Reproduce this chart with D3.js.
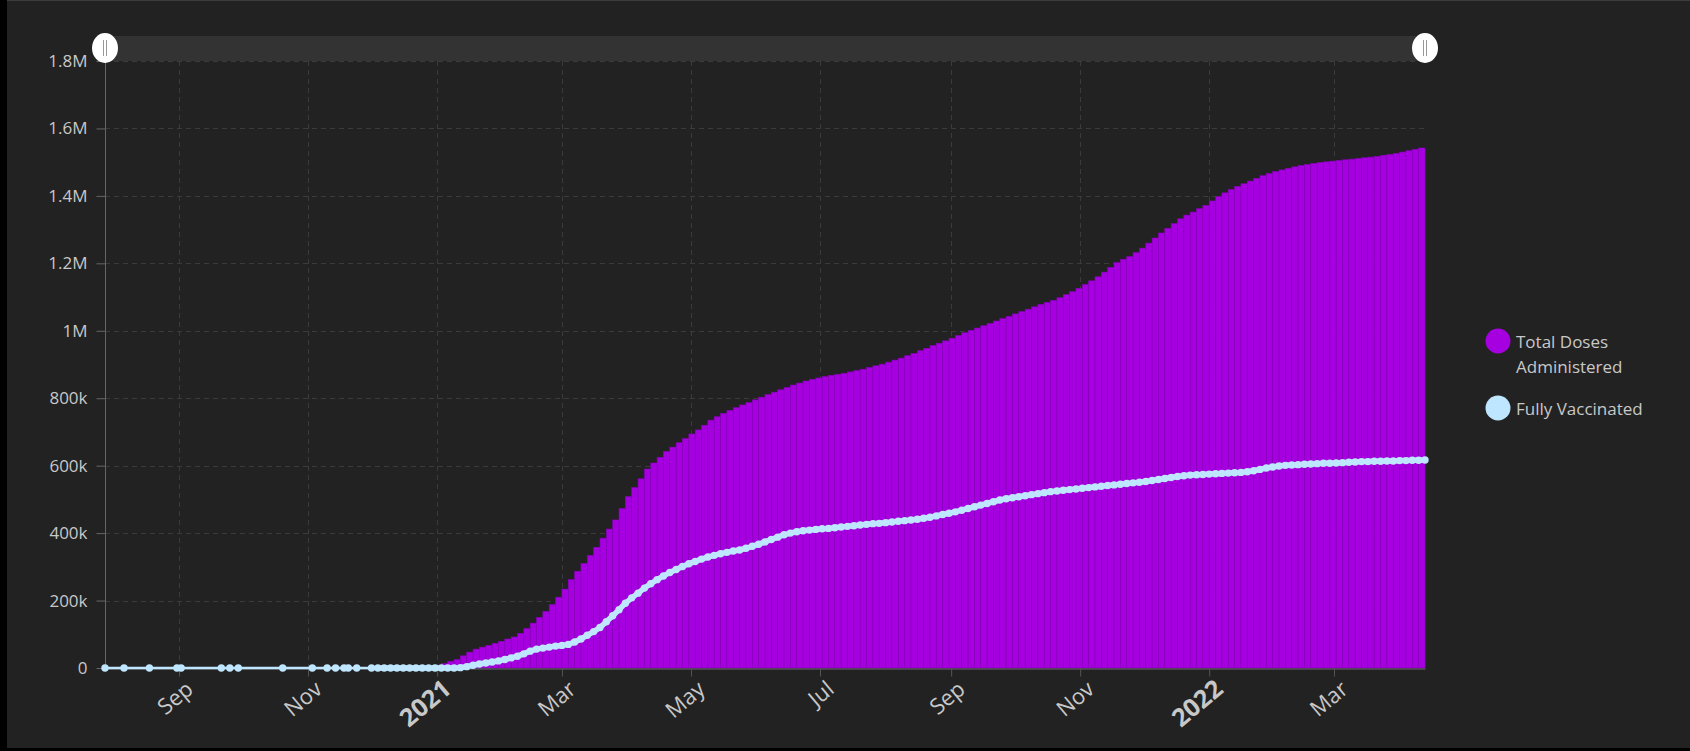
<!DOCTYPE html>
<html lang="en">
<head>
<meta charset="utf-8">
<title>Vaccinations</title>
<script src="https://cdn.jsdelivr.net/npm/d3@7"></script>
<style>
  body { margin: 0; background: #000; }
  svg { display: block; }
  text { font-family: "Open Sans", sans-serif; }
</style>
</head>
<body>
<div id="chart"></div>
<script>
// sparse 2020 reports, nothing administered yet
var earlyDates = ["2020-07-28", "2020-08-06", "2020-08-18", "2020-08-31", "2020-09-02",
	"2020-09-21", "2020-09-25", "2020-09-29", "2020-10-20", "2020-11-03", "2020-11-10",
	"2020-11-14", "2020-11-18", "2020-11-20", "2020-11-24", "2020-12-01"];
var earlyTotal = [0, 0, 0, 0, 0, 0, 0, 0, 0, 0, 0, 0, 0, 0, 0, 0];
var earlyFully = [0, 0, 0, 0, 0, 0, 0, 0, 0, 0, 0, 0, 0, 0, 0, 0];

// one report every 3 days, 2020-12-04 .. 2022-04-13, values in thousands
var firstDate = "2020-12-04";
var stepDays = 3;
var totalDoses = [
	0, 0, 0, 0, 0, 0, 1, 1, 2, 3,                                  // Dec 20
	6, 13, 20, 25, 36, 47, 56, 62, 67, 73,                         // Jan 21
	79, 86, 92, 103, 117, 133, 150, 168, 188,                      // Feb
	210, 234, 262, 287, 310, 334, 358, 385, 412, 439, 473,         // Mar
	508, 535, 561, 590, 608, 625, 642, 655, 668, 680,              // Apr
	694, 706, 720, 735, 745, 755, 764, 772, 780, 787,              // May
	795, 803, 811, 818, 825, 832, 839, 845, 851, 856,              // Jun
	860, 864, 868, 871, 874, 878, 882, 886, 891, 896,              // Jul
	901, 907, 913, 919, 926, 933, 941, 948, 956, 963, 970,         // Aug
	978, 986, 994, 1001, 1008, 1015, 1022, 1029, 1036, 1043,       // Sep
	1050, 1057, 1064, 1071, 1078, 1084, 1090, 1098, 1107, 1116,    // Oct
	1126, 1137, 1148, 1160, 1174, 1188, 1202, 1212, 1220, 1232,    // Nov
	1245, 1260, 1275, 1290, 1304, 1318, 1332, 1343, 1352, 1362,    // Dec
	1372, 1385, 1398, 1409, 1419, 1428, 1436, 1444, 1452, 1460, 1466, // Jan 22
	1472, 1477, 1482, 1486, 1490, 1493, 1496, 1499, 1501,          // Feb
	1503, 1505, 1507, 1509, 1511, 1513, 1515, 1517, 1520, 1523,    // Mar
	1526, 1530, 1534, 1538, 1542                                   // Apr
];
var fullyVaccinated = [
	0, 0, 0, 0, 0, 0, 0, 0, 0, 0,
	0, 0, 0, 1, 4, 8, 12, 15, 18, 21,
	25, 30, 35, 42, 50, 56, 59, 62, 65,
	67, 70, 77, 86, 97, 108, 120, 137, 155, 173, 192,
	208, 222, 237, 250, 262, 273, 283, 292, 301, 309,
	316, 323, 329, 334, 339, 343, 347, 350, 355, 361,
	367, 374, 381, 388, 395, 400, 404, 407, 409, 411,
	413, 414, 416, 418, 420, 422, 424, 426, 428, 429,
	431, 433, 435, 437, 439, 441, 444, 447, 451, 455, 459,
	463, 468, 473, 478, 483, 488, 493, 498, 502, 505,
	508, 511, 514, 517, 520, 523, 525, 527, 529, 531,
	533, 535, 537, 539, 541, 543, 545, 547, 549, 551,
	553, 556, 559, 562, 565, 568, 570, 572, 573, 574,
	575, 576, 577, 578, 579, 580, 582, 585, 589, 593, 596,
	599, 601, 602, 603, 604, 605, 606, 607, 607,
	608, 609, 610, 611, 612, 612, 613, 613, 614, 614,
	615, 615, 616, 616, 617
];

var yTicks = [0, 200, 400, 600, 800, 1000, 1200, 1400, 1600, 1800];
var yTickLabels = ["0", "200k", "400k", "600k", "800k", "1M", "1.2M", "1.4M", "1.6M", "1.8M"];
var xTickDates = ["2020-09-01", "2020-11-01", "2021-01-01", "2021-03-01", "2021-05-01",
	"2021-07-01", "2021-09-01", "2021-11-01", "2022-01-01", "2022-03-01"];
var xTickLabels = ["Sep", "Nov", "2021", "Mar", "May", "Jul", "Sep", "Nov", "2022", "Mar"];

var seriesNames = ["Total Doses|Administered", "Fully Vaccinated"];
var seriesColors = ["#a600e0", "#bfe6ff"];

var w = 1690;
var h = 751;
var plotLeft = 105, plotRight = 1425, plotTop = 61, plotBottom = 668;

var parse = d3.timeParse("%Y-%m-%d");
var start = parse(firstDate);

var rows = totalDoses.map(function(d, i) {
	return { date: d3.timeDay.offset(start, i * stepDays), total: d, fully: fullyVaccinated[i] };
});
var early = earlyDates.map(function(d, i) {
	return { date: parse(d), total: earlyTotal[i], fully: earlyFully[i] };
});
var allRows = early.concat(rows);

var x = d3.scaleTime()
	.domain([parse(earlyDates[0]), rows[rows.length - 1].date])
	.range([plotLeft, plotRight]);
var y = d3.scaleLinear()
	.domain([0, 1800])
	.range([plotBottom, plotTop]);

var svg = d3.select("#chart").append("svg").attr("width", w).attr("height", h);

// panel
svg.append("rect")
	.attr("x", 7).attr("y", 0)
	.attr("width", w - 7).attr("height", 748)
	.attr("fill", "#222222");
svg.append("line")
	.attr("x1", 7).attr("x2", w).attr("y1", 0.5).attr("y2", 0.5)
	.attr("stroke", "#3d3d3d");

// grid
svg.append("g").selectAll("line")
	.data(yTicks.slice(1))
	.enter().append("line")
	.attr("x1", plotLeft).attr("x2", plotRight)
	.attr("y1", function(d) { return Math.round(y(d)) + 0.5; })
	.attr("y2", function(d) { return Math.round(y(d)) + 0.5; })
	.attr("stroke", "#3b3b3b")
	.attr("stroke-dasharray", "5,4");

svg.append("g").selectAll("line")
	.data(xTickDates)
	.enter().append("line")
	.attr("x1", function(d) { return Math.round(x(parse(d))) + 0.5; })
	.attr("x2", function(d) { return Math.round(x(parse(d))) + 0.5; })
	.attr("y1", plotTop).attr("y2", plotBottom)
	.attr("stroke", "#3b3b3b")
	.attr("stroke-dasharray", "5,4");

// bars
svg.append("g").selectAll("rect")
	.data(rows.filter(function(d) { return d.total > 0; }))
	.enter().append("rect")
	.attr("x", function(d) { return x(d3.timeDay.offset(d.date, -stepDays)); })
	.attr("width", function(d) { return x(d.date) - x(d3.timeDay.offset(d.date, -stepDays)); })
	.attr("y", function(d) { return y(d.total); })
	.attr("height", function(d) { return y(0) - y(d.total); })
	.attr("fill", seriesColors[0])
	.attr("stroke", "#8a00bd")
	.attr("stroke-width", 0.6);

// axes
var yAxis = d3.axisLeft(y)
	.tickValues(yTicks)
	.tickFormat(function(d, i) { return yTickLabels[i]; })
	.tickSize(9)
	.tickPadding(9);
var gy = svg.append("g")
	.attr("transform", "translate(" + (plotLeft + 0.5) + ",0)")
	.call(yAxis);
gy.select(".domain").attr("stroke", "#666").attr("d", "M0," + plotTop + "V" + plotBottom);
gy.selectAll(".tick line").attr("stroke", "#666");
gy.selectAll(".tick text")
	.attr("fill", "#c8c8c8")
	.style("font-size", "17px");

var xAxis = d3.axisBottom(x)
	.tickValues(xTickDates.map(parse))
	.tickFormat(function(d, i) { return xTickLabels[i]; })
	.tickSize(8)
	.tickSizeOuter(0);
var gx = svg.append("g")
	.attr("transform", "translate(0," + (plotBottom + 0.5) + ")")
	.call(xAxis);
gx.select(".domain").attr("stroke", "#8a8a8a").attr("stroke-opacity", 0.7);
gx.selectAll(".tick line").attr("stroke", "#555");
gx.selectAll(".tick text")
	.attr("fill", "#c8c8c8")
	.style("font-size", function(d, i) { return /^\d/.test(xTickLabels[i]) ? "25px" : "22px"; })
	.style("font-weight", function(d, i) { return /^\d/.test(xTickLabels[i]) ? "bold" : "normal"; })
	.attr("text-anchor", "end")
	.attr("dy", null)
	.attr("y", null)
	.attr("transform", "translate(15,23) rotate(-40)");

// fully vaccinated line: thin through the sparse reports, thick where daily
var line = d3.line()
	.x(function(d) { return x(d.date); })
	.y(function(d) { return y(d.fully); });

svg.append("path")
	.datum(early.concat(rows.slice(0, 1)))
	.attr("d", line)
	.attr("fill", "none")
	.attr("stroke", seriesColors[1])
	.attr("stroke-width", 2.5);

svg.append("path")
	.datum(rows)
	.attr("d", line)
	.attr("fill", "none")
	.attr("stroke", seriesColors[1])
	.attr("stroke-width", 5.5)
	.attr("stroke-linejoin", "round");

svg.append("g").selectAll("circle")
	.data(allRows)
	.enter().append("circle")
	.attr("cx", function(d) { return x(d.date); })
	.attr("cy", function(d) { return y(d.fully); })
	.attr("r", 3.7)
	.attr("fill", seriesColors[1]);

// range slider on top
svg.append("rect")
	.attr("x", plotLeft).attr("y", 36)
	.attr("width", plotRight - plotLeft).attr("height", 25)
	.attr("fill", "#333333");

var handles = svg.append("g").selectAll("g")
	.data([plotLeft, plotRight])
	.enter().append("g")
	.attr("transform", function(d) { return "translate(" + d + ",48)"; });
handles.append("ellipse")
	.attr("rx", 13).attr("ry", 15)
	.attr("fill", "#ffffff");
handles.selectAll("line")
	.data([-1.5, 1.5])
	.enter().append("line")
	.attr("x1", function(d) { return d; }).attr("x2", function(d) { return d; })
	.attr("y1", -8).attr("y2", 8)
	.attr("stroke", "#999")
	.attr("stroke-width", 1);

// legend
var legend = svg.append("g").selectAll("g")
	.data(seriesNames)
	.enter().append("g")
	.attr("transform", function(d, i) { return "translate(1498," + (i === 0 ? 341 : 408) + ")"; });
legend.append("circle")
	.attr("r", 12.5)
	.attr("fill", function(d, i) { return seriesColors[i]; });
legend.append("text")
	.attr("x", 18)
	.attr("y", 7)
	.attr("fill", "#c8c8c8")
	.style("font-size", "17px")
	.selectAll("tspan")
	.data(function(d) { return d.split("|"); })
	.enter().append("tspan")
	.attr("x", 18)
	.attr("dy", function(d, i) { return i === 0 ? 0 : 25; })
	.text(function(d) { return d; });
</script>
</body>
</html>
